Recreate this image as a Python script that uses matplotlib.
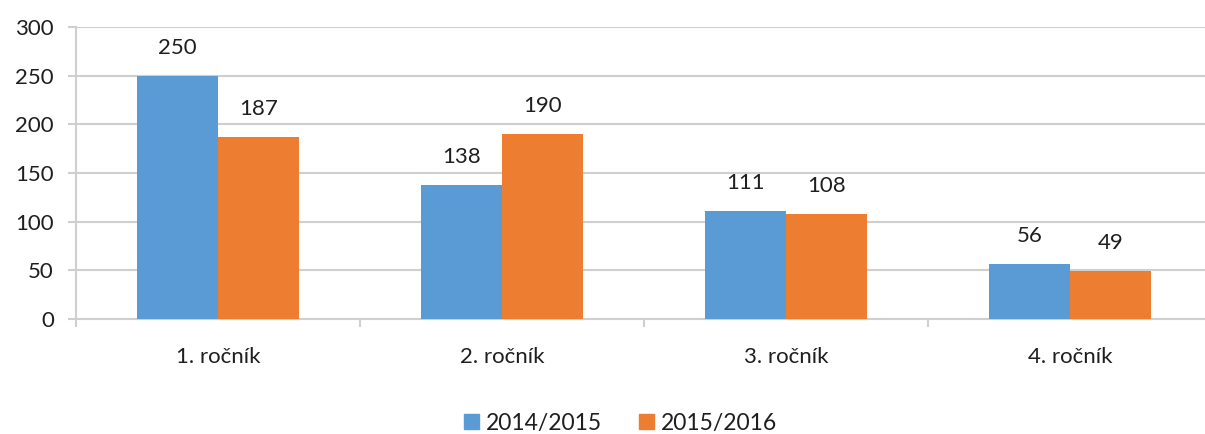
import numpy as np
import matplotlib.pyplot as plt
from matplotlib.patches import Patch

# data
categories = ['1. ročník', '2. ročník', '3. ročník', '4. ročník']
series_names = ['2014/2015', '2015/2016']
vals_2014 = [250, 138, 111, 56]
vals_2015 = [187, 190, 108, 49]

blue = '#5B9BD5'
orange = '#ED7D31'
text_col = '#1f1f1f'
grid_col = '#cfcfcf'

plt.rcParams['font.family'] = ['Lato', 'DejaVu Sans']

fig = plt.figure(figsize=(12.05, 4.34), dpi=100)
ax = fig.add_axes([76/1205, (434-319)/434, 1136/1205, 292/434])

x = np.arange(len(categories))
w = 0.285
b1 = ax.bar(x - w/2, vals_2014, w, color=blue, zorder=3)
b2 = ax.bar(x + w/2, vals_2015, w, color=orange, zorder=3)

for bars, vals in [(b1, vals_2014), (b2, vals_2015)]:
    for r, v in zip(bars, vals):
        ax.annotate(str(v), (r.get_x() + r.get_width()/2, v), xytext=(0, 13),
                    textcoords='offset points', ha='center', va='bottom',
                    fontsize=16, color=text_col)

ax.set_ylim(0, 300)
ax.set_yticks(range(0, 301, 50))
ax.set_xlim(-0.5, len(categories) - 0.5)
ax.set_xticks(x)
ax.set_xticklabels(categories)
ax.set_xticks(np.arange(-0.5, len(categories), 1), minor=True)

ax.grid(axis='y', color=grid_col, linewidth=1.5, zorder=0)
for s in ['top', 'right']:
    ax.spines[s].set_visible(False)
ax.spines['left'].set_color(grid_col)
ax.spines['left'].set_linewidth(1.5)
ax.spines['bottom'].set_color(grid_col)
ax.spines['bottom'].set_linewidth(1.5)

ax.tick_params(axis='y', length=6, width=1.5, color=grid_col, labelsize=16,
               labelcolor=text_col, pad=10)
ax.tick_params(axis='x', which='major', length=0, labelsize=16,
               labelcolor=text_col, pad=20)
ax.tick_params(axis='x', which='minor', length=6, width=1.5, color=grid_col)

handles = [Patch(color=blue), Patch(color=orange)]
fig.legend(handles, series_names, loc='center', bbox_to_anchor=(0.515, 0.025),
           ncol=2, frameon=False, fontsize=16.5, handlelength=0.65, handleheight=0.65,
           handletextpad=0.3, columnspacing=1.6, labelcolor=text_col)

fig.savefig('out.png', dpi=100)
